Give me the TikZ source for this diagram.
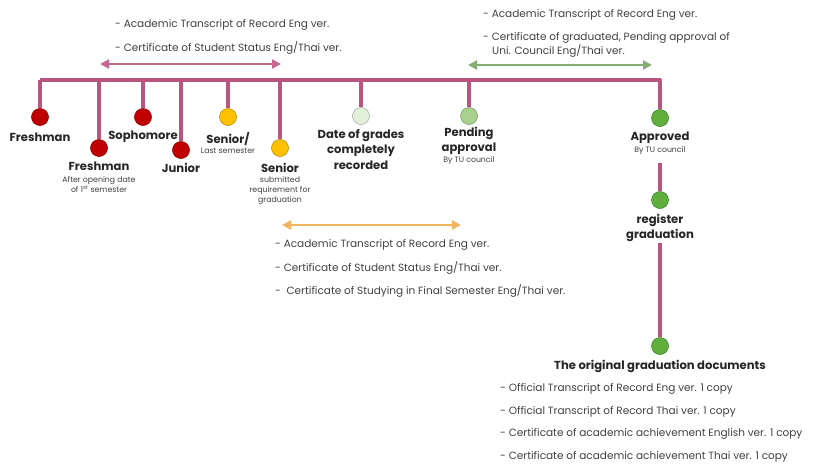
\documentclass[tikz,border=0pt]{standalone}
\usepackage{fontspec}
\setmainfont{Poppins}
\usetikzlibrary{arrows.meta, positioning}
\definecolor{stemrose}{HTML}{B9557E}
\definecolor{dotred}{HTML}{C00000}
\definecolor{dotorange}{HTML}{FFC000}
\definecolor{dotpale}{HTML}{E2F0D9}
\definecolor{dotmint}{HTML}{A9D18E}
\definecolor{dotgreen}{HTML}{5FAE3E}
\definecolor{spanrose}{HTML}{C7698F}
\definecolor{spangreen}{HTML}{86AE72}
\definecolor{spanorange}{HTML}{F2B65E}
\definecolor{txtgray}{HTML}{404040}

\begin{document}
\begin{tikzpicture}[
  x=1pt, y=-1pt,
  stem/.style={draw=stemrose, line width=4pt},
  dot/.style={circle, draw=#1!75!black, line width=0.6pt, fill=#1,
              minimum size=17pt, inner sep=0pt},
  stage/.style={font=\bfseries\fontsize{11.6}{15.5}\selectfont, text=black!85,
                align=center, inner sep=0pt},
  note/.style={font=\fontsize{7.8}{10}\selectfont, text=txtgray,
               align=center, inner sep=0pt},
  item/.style={font=\fontsize{10.5}{12}\selectfont, text=txtgray,
               anchor=west, inner sep=0pt},
  span/.style={draw=#1, line width=2.5pt, {Triangle[length=9pt,width=9pt]}-{Triangle[length=9pt,width=9pt]}}
]
  \useasboundingbox (0,0) rectangle (814,464);

  % timeline
  \coordinate (tlL) at (40,80);
  \coordinate (tlR) at (660,80);

  \node[dot=dotred]    (fresh)  at (40,117) {};
  \node[dot=dotred]    (freshb) at (99,148) {};
  \node[dot=dotred]    (soph)   at (143,117) {};
  \node[dot=dotred]    (junior) at (181,150) {};
  \node[dot=dotorange] (last)   at (228,117) {};
  \node[dot=dotorange] (senior) at (280,148) {};
  \node[dot=dotpale]   (grades) at (361,116) {};
  \node[dot=dotmint]   (pend)   at (469,116) {};
  \node[dot=dotgreen]  (appr)   at (660,118) {};
  \node[dot=dotgreen]  (reg)    at (660,200) {};
  \node[dot=dotgreen]  (docs)   at (660,346) {};

  \draw[stem, line join=round] (tlL) -- (tlR) -- (appr);
  \foreach \d in {freshb, soph, junior, last, senior, grades, pend}
    \draw[stem] (\d |- tlL) -- (\d);
  \draw[stem] (tlL) -- (fresh);

  \coordinate (regtop) at (660,163);
  \coordinate (doctop) at (660,243);
  \draw[stem] (regtop) -- (reg);
  \draw[stem] (doctop) -- (docs);

  % stage labels
  \node[stage, below=7pt of fresh]  (lfresh)  {Freshman};
  \node[stage, below=5pt of freshb] (lfreshb) {Freshman};
  \node[note, below=5pt of lfreshb] (nfreshb) {After opening date\\of 1\textsuperscript{st} semester};
  \node[stage, below=5pt of soph]   (lsoph)   {Sophomore};
  \node[stage, below=4pt of junior] (ljunior) {Junior};
  \node[stage, below=6pt of last]   (llast)   {Senior/};
  \node[note, below=2pt of llast]   (nlast)   {Last semester};
  \node[stage, below=6pt of senior] (lsenior) {Senior};
  \node[note, below=4pt of lsenior] (nsenior) {submitted\\requirement for\\graduation};
  \node[stage, below=4pt of grades] (lgrades) {Date of grades\\completely\\recorded};
  \node[stage, below=2pt of pend]   (lpend)   {Pending\\approval};
  \node[note, below=1pt of lpend]   (npend)   {By TU council};
  \node[stage, below=5pt of appr]   (lappr)   {Approved};
  \node[note, below=2pt of lappr]   (nappr)   {By TU council};
  \node[stage, below=5pt of reg]    (lreg)    {register\\graduation};
  \node[stage, below=5pt of docs]   (ldocs)   {The original graduation documents};

  % document spans
  \coordinate (roseL) at (100,64);   \coordinate (roseR) at (281,64);
  \coordinate (greenL) at (468,65);  \coordinate (greenR) at (652,65);
  \coordinate (orangeL) at (282,225); \coordinate (orangeR) at (461,225);
  \draw[span=spanrose]   (roseL) -- (roseR);
  \draw[span=spangreen]  (greenL) -- (greenR);
  \draw[span=spanorange] (orangeL) -- (orangeR);

  \foreach \t [count=\k] in {{- Academic Transcript of Record Eng ver.},
                             {- Certificate of Student Status Eng/Thai ver.}}
    \node[item] (rose\k) at (115,2+23*\k) {\t};

  \node[item] (green1) at (483,15) {- Academic Transcript of Record Eng ver.};
  \node[item] (green2) at (483,38) {- Certificate of graduated, Pending approval of};
  \node[item] (green3) at (492,51) {Uni. Council Eng/Thai ver.};

  \foreach \t [count=\k] in {{- Academic Transcript of Record Eng ver.},
                             {- Certificate of Student Status Eng/Thai ver.},
                             {-\ \ Certificate of Studying in Final Semester Eng/Thai ver.}}
    \node[item] (orange\k) at (275,222+23*\k) {\t};

  \foreach \t [count=\k] in {{- Official Transcript of Record Eng ver. 1 copy},
                             {- Official Transcript of Record Thai ver. 1 copy},
                             {- Certificate of academic achievement English ver. 1 copy},
                             {- Certificate of academic achievement Thai ver. 1 copy}}
    \node[item] (doc\k) at (500,366+22.7*\k) {\t};
\end{tikzpicture}
\end{document}
